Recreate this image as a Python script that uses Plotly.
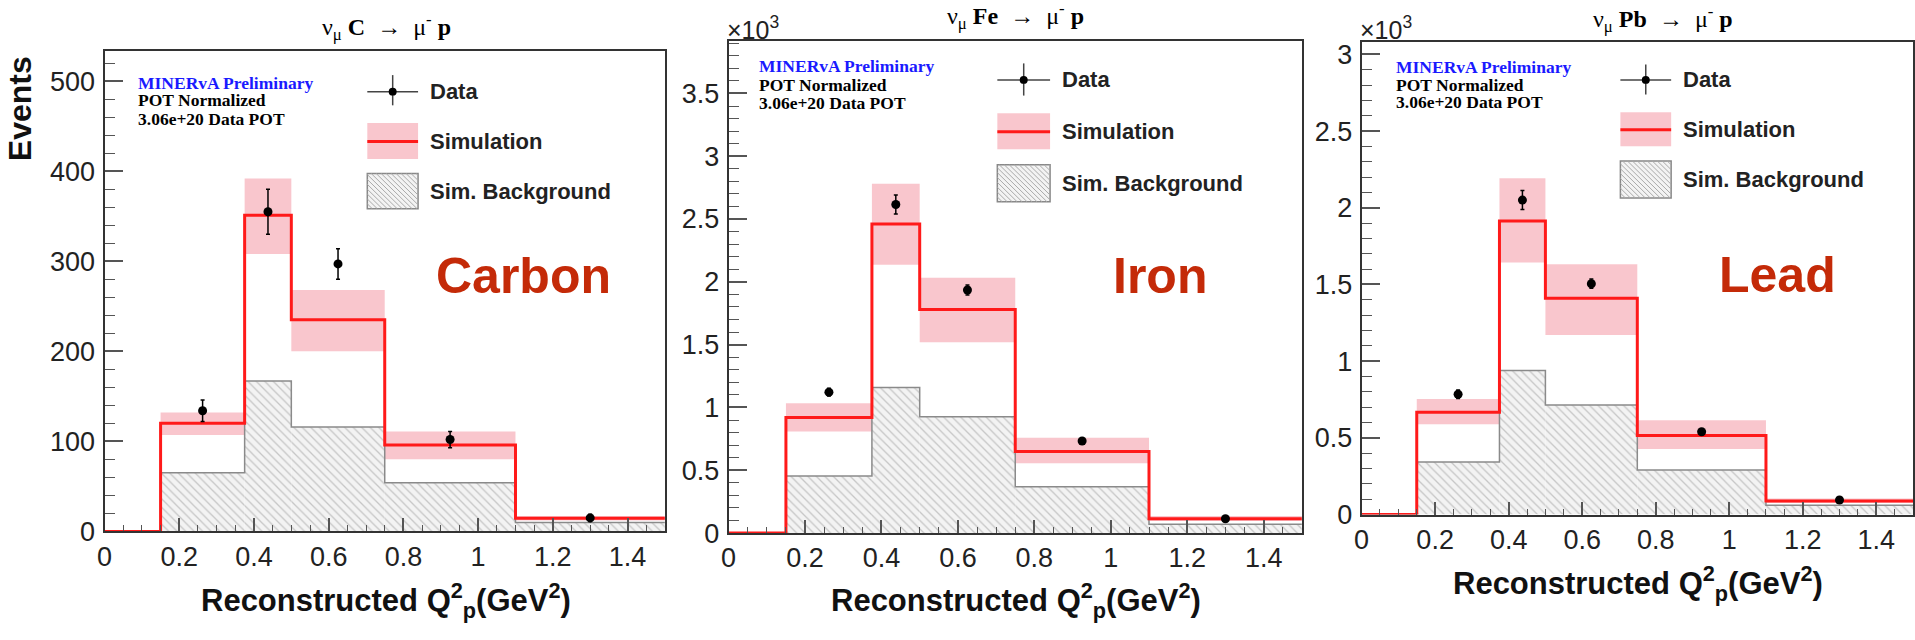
import plotly.graph_objects as go
import numpy as np

# ---------------- data ----------------
bin_edges = [0.0, 0.15, 0.375, 0.5, 0.75, 1.1, 1.5]
x_ticks = [0, 0.2, 0.4, 0.6, 0.8, 1.0, 1.2, 1.4]

# Carbon (events)
c_sim = [0, 120, 351, 235, 96, 14.5]
c_sim_lo = [0, 107, 308, 200, 80, 12]
c_sim_hi = [0, 132, 392, 268, 111, 17]
c_bkg = [0, 65, 167, 116, 54, 10]
c_data = [134, 355, 297, 102, 15]
c_data_err = [12, 25, 17, 9, 4]

# Iron (events)
fe_sim = [0, 920, 2460, 1780, 650, 114]
fe_sim_lo = [0, 808, 2137, 1520, 555, 95]
fe_sim_hi = [0, 1033, 2780, 2033, 759, 135]
fe_bkg = [0, 454, 1158, 925, 368, 70]
fe_data = [1122, 2616, 1935, 733, 114]
fe_data_err = [30, 75, 40, 25, 10]

# Lead (events)
pb_sim = [0, 667, 1914, 1410, 515, 89]
pb_sim_lo = [0, 589, 1643, 1170, 428, 75]
pb_sim_hi = [0, 753, 2193, 1632, 615, 105]
pb_bkg = [0, 343, 939, 714, 290, 60]
pb_data = [784, 2050, 1505, 540, 95]
pb_data_err = [28, 62, 30, 18, 8]

c_yticks = [0, 100, 200, 300, 400, 500]
c_yticktext = ["0", "100", "200", "300", "400", "500"]
fe_yticks = [0, 500, 1000, 1500, 2000, 2500, 3000, 3500]
fe_yticktext = ["0", "0.5", "1", "1.5", "2", "2.5", "3", "3.5"]
pb_yticks = [0, 500, 1000, 1500, 2000, 2500, 3000]
pb_yticktext = ["0", "0.5", "1", "1.5", "2", "2.5", "3"]

titles = ["ν<sub>μ</sub> <b>C</b>  →  μ<sup>-</sup> <b>p</b>",
          "ν<sub>μ</sub> <b>Fe</b>  →  μ<sup>-</sup> <b>p</b>",
          "ν<sub>μ</sub> <b>Pb</b>  →  μ<sup>-</sup> <b>p</b>"]
targets = ["Carbon", "Iron", "Lead"]

W, H = 1915, 640
def PX(x): return x / W
def PY(y): return 1 - y / H

SIM_RED = "#ff1a1a"
BAND = "rgba(248,188,196,0.85)"
TARGET_RED = "#c42a08"

panels = [
    dict(sim=c_sim, lo=c_sim_lo, hi=c_sim_hi, bkg=c_bkg, data=c_data, err=c_data_err,
         x0=97, x1=660, ytop=51.7, ybot=544, ymax=533, yt=c_yticks, ytt=c_yticktext, ydm=20,
         title=(380, 27), target=(518, 282), xtitle=(380, 615), exp=None,
         info=(129, [84, 102, 121]), leg=dict(lx0=361, lx1=412, dy=93, dv=(76, 107), tx=422,
                                             sb=(125, 162), sl=144, bb=(177, 213))),
    dict(sim=fe_sim, lo=fe_sim_lo, hi=fe_sim_hi, bkg=fe_bkg, data=fe_data, err=fe_data_err,
         x0=724, x1=1300, ytop=40.7, ybot=545.7, ymax=3920, yt=fe_yticks, ytt=fe_yticktext, ydm=100,
         title=(1012, 15), target=(1157, 282), xtitle=(1013, 615), exp=(724, 28),
         info=(753, [67, 86, 105]), leg=dict(lx0=994, lx1=1047, dy=81, dv=(64, 97), tx=1057,
                                             sb=(115, 152), sl=134, bb=(168, 206))),
    dict(sim=pb_sim, lo=pb_sim_lo, hi=pb_sim_hi, bkg=pb_bkg, data=pb_data, err=pb_data_err,
         x0=1360, x1=1914, ytop=41.7, ybot=526.7, ymax=3083, yt=pb_yticks, ytt=pb_yticktext, ydm=100,
         title=(1663, 18), target=(1778, 281), xtitle=(1638, 597), exp=(1360, 28),
         info=(1393, [68, 86, 104]), leg=dict(lx0=1620, lx1=1671, dy=81, dv=(65, 96), tx=1681,
                                              sb=(114, 149), sl=132, bb=(164, 202))),
]

edges = np.array(bin_edges)
centers = (edges[:-1] + edges[1:]) / 2
widths = edges[1:] - edges[:-1]

fig = go.Figure()
annotations = []
shapes = []
AX = "#333333"

for i, p in enumerate(panels):
    n = "" if i == 0 else str(i + 1)
    xa, ya = "x" + n, "y" + n
    sim = np.array(p["sim"], float); lo = np.array(p["lo"], float); hi = np.array(p["hi"], float)
    bkg = np.array(p["bkg"], float)
    # background hatched
    fig.add_trace(go.Bar(x=centers, y=bkg, width=widths, xaxis=xa, yaxis=ya, showlegend=False,
                         marker=dict(color="#f3f3f3", line=dict(width=0),
                                     pattern=dict(shape="\\", fgcolor="#9a9a9a", bgcolor="#f3f3f3",
                                                  size=6, solidity=0.22))))
    fig.add_trace(go.Scatter(x=list(edges), y=list(bkg) + [bkg[-1]], mode="lines", line_shape="hv",
                             line=dict(color="#8a8a8a", width=1.5), xaxis=xa, yaxis=ya, showlegend=False))
    # sim band
    fig.add_trace(go.Bar(x=centers[1:], y=(hi - lo)[1:], base=lo[1:], width=widths[1:], xaxis=xa, yaxis=ya,
                         showlegend=False, marker=dict(color=BAND, line=dict(width=0))))
    # sim line
    fig.add_trace(go.Scatter(x=list(edges), y=list(sim) + [sim[-1]], mode="lines", line_shape="hv",
                             line=dict(color=SIM_RED, width=3), xaxis=xa, yaxis=ya, showlegend=False))
    # data
    fig.add_trace(go.Scatter(x=centers[1:], y=p["data"], mode="markers", xaxis=xa, yaxis=ya, showlegend=False,
                             marker=dict(color="black", size=9),
                             error_y=dict(type="data", array=p["err"], color="black", thickness=1.5, width=2)))

    xdom = [PX(p["x0"]), PX(p["x1"])]
    ydom = [PY(p["ybot"]), PY(p["ytop"])]
    fig.update_layout(**{
        "xaxis" + n: dict(domain=xdom, range=[0, 1.5], anchor=ya, tickvals=x_ticks,
                          ticktext=["0", "0.2", "0.4", "0.6", "0.8", "1", "1.2", "1.4"],
                          ticks="inside", ticklen=13, tickwidth=1.5, tickcolor="#555",
                          minor=dict(dtick=0.05, ticks="inside", ticklen=6, tickcolor="#555", tickwidth=1),
                          showline=True, linecolor=AX, linewidth=2, mirror=True,
                          showgrid=False, zeroline=False,
                          tickfont=dict(family="Liberation Sans", size=27, color="#222")),
        "yaxis" + n: dict(domain=ydom, range=[0, p["ymax"]], anchor=xa, tickvals=p["yt"], ticktext=p["ytt"],
                          ticks="inside", ticklen=18, tickwidth=1.5, tickcolor="#555",
                          minor=dict(dtick=p["ydm"], ticks="inside", ticklen=10, tickcolor="#555", tickwidth=1),
                          showline=True, linecolor=AX, linewidth=2, mirror=True,
                          showgrid=False, zeroline=False, ticklabelstandoff=2,
                          tickfont=dict(family="Liberation Sans", size=27, color="#222")),
    })

    # title
    annotations.append(dict(x=PX(p["title"][0]), y=PY(p["title"][1]), xref="paper", yref="paper",
                            text=titles[i], showarrow=False, xanchor="center", yanchor="middle",
                            font=dict(family="Liberation Serif", size=24, color="black")))
    # target label
    annotations.append(dict(x=PX(p["target"][0]), y=PY(p["target"][1]), xref="paper", yref="paper",
                            text="<b>%s</b>" % targets[i], showarrow=False, xanchor="center", yanchor="middle",
                            font=dict(family="Liberation Sans", size=50, color=TARGET_RED)))
    # x title
    annotations.append(dict(x=PX(p["xtitle"][0]), y=PY(p["xtitle"][1]), xref="paper", yref="paper",
                            text="<b>Reconstructed Q<sup>2</sup><sub>p</sub>(GeV<sup>2</sup>)</b>",
                            showarrow=False, xanchor="center", yanchor="middle",
                            font=dict(family="Liberation Sans", size=31, color="#111")))
    if p["exp"]:
        annotations.append(dict(x=PX(p["exp"][0] - 4), y=PY(p["exp"][1]), xref="paper", yref="paper",
                                text="×10<sup>3</sup>", showarrow=False, xanchor="left", yanchor="middle",
                                font=dict(family="Liberation Sans", size=25, color="#222")))
    # info text
    ix, iys = p["info"]
    for t, yy, col in zip(["<b>MINERvA Preliminary</b>", "<b>POT Normalized</b>", "<b>3.06e+20 Data POT</b>"],
                          iys, ["#1a1aff", "black", "black"]):
        annotations.append(dict(x=PX(ix), y=PY(yy), xref="paper", yref="paper", text=t, showarrow=False,
                                xanchor="left", yanchor="middle",
                                font=dict(family="Liberation Serif", size=17.5, color=col)))
    # legend
    L = p["leg"]
    mx = (L["lx0"] + L["lx1"]) / 2
    shapes.append(dict(type="line", xref="paper", yref="paper", x0=PX(L["lx0"]), x1=PX(L["lx1"]),
                       y0=PY(L["dy"]), y1=PY(L["dy"]), line=dict(color="#444", width=1.5)))
    shapes.append(dict(type="line", xref="paper", yref="paper", x0=PX(mx), x1=PX(mx),
                       y0=PY(L["dv"][0]), y1=PY(L["dv"][1]), line=dict(color="#444", width=1.5)))
    shapes.append(dict(type="circle", xref="paper", yref="paper", x0=PX(mx - 4), x1=PX(mx + 4),
                       y0=PY(L["dy"] - 4), y1=PY(L["dy"] + 4), fillcolor="black", line=dict(width=0)))
    shapes.append(dict(type="rect", xref="paper", yref="paper", x0=PX(L["lx0"]), x1=PX(L["lx1"]),
                       y0=PY(L["sb"][0]), y1=PY(L["sb"][1]), fillcolor=BAND, line=dict(width=0)))
    shapes.append(dict(type="line", xref="paper", yref="paper", x0=PX(L["lx0"]), x1=PX(L["lx1"]),
                       y0=PY(L["sl"]), y1=PY(L["sl"]), line=dict(color=SIM_RED, width=3)))
    bx0, bx1 = L["lx0"], L["lx1"]
    by0, by1 = L["bb"]
    shapes.append(dict(type="rect", xref="paper", yref="paper", x0=PX(bx0), x1=PX(bx1),
                       y0=PY(by0), y1=PY(by1), fillcolor="#f3f3f3", line=dict(color="#888", width=1.5)))
    hh = by1 - by0
    path = ""
    d = -hh
    while d < (bx1 - bx0):
        tmin = max(0, -d); tmax = min(hh, (bx1 - bx0) - d)
        if tmin < tmax:
            xa0 = bx0 + d + tmin; ya0 = by0 + tmin
            xa1 = bx0 + d + tmax; ya1 = by0 + tmax
            path += "M%.5f,%.5f L%.5f,%.5f " % (PX(xa0), PY(ya0), PX(xa1), PY(ya1))
        d += 5
    shapes.append(dict(type="path", xref="paper", yref="paper", path=path, line=dict(color="#aaa", width=1)))
    for t, yy in zip(["Data", "Simulation", "Sim. Background"],
                     [L["dy"], L["sl"], (by0 + by1) / 2]):
        annotations.append(dict(x=PX(L["tx"]), y=PY(yy), xref="paper", yref="paper", text="<b>%s</b>" % t,
                                showarrow=False, xanchor="left", yanchor="middle",
                                font=dict(family="Liberation Sans", size=22, color="#222")))

# y axis title for Carbon
annotations.append(dict(x=PX(12), y=PY(110), xref="paper", yref="paper", text="<b>Events</b>",
                        showarrow=False, textangle=-90, xanchor="center", yanchor="middle",
                        font=dict(family="Liberation Sans", size=32, color="#111")))

fig.update_layout(width=W, height=H, margin=dict(l=0, r=0, t=0, b=0), barmode="overlay",
                  plot_bgcolor="white", paper_bgcolor="white", showlegend=False,
                  annotations=annotations, shapes=shapes)
fig.write_html("out.html")
